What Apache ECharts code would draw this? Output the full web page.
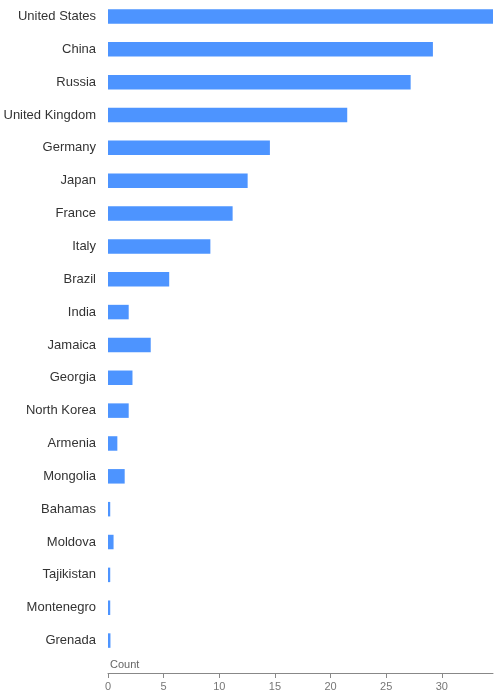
<!DOCTYPE html>
<html>
<head>
<meta charset="utf-8">
<script src="https://cdn.jsdelivr.net/npm/echarts@6/dist/echarts.min.js"></script>
<style>
  html, body { margin: 0; padding: 0; background: #fff; }
  #main { width: 497px; height: 694px; }
</style>
</head>
<body>
<div id="main"></div>
<script>
// countries, top to bottom
var countries = ['United States', 'China', 'Russia', 'United Kingdom', 'Germany', 'Japan',
  'France', 'Italy', 'Brazil', 'India', 'Jamaica', 'Georgia', 'North Korea', 'Armenia',
  'Mongolia', 'Bahamas', 'Moldova', 'Tajikistan', 'Montenegro', 'Grenada'];
var counts = [34.6, 29.2, 27.2, 21.5, 14.55, 12.55, 11.2, 9.2, 5.5, 1.86,
  3.84, 2.2, 1.86, 0.84, 1.5, 0.2, 0.5, 0.2, 0.2, 0.22];
var tickStep = 5;

var myChart = echarts.init(document.getElementById('main'));

var option = {
  animation: false,
  grid: { left: 108, right: 4, top: -3, bottom: 37, containLabel: false },
  xAxis: {
    type: 'value',
    min: 0,
    max: 'dataMax',
    interval: tickStep,
    offset: 16,
    name: 'Count',
    nameLocation: 'start',
    nameGap: -2,
    nameTextStyle: {
      color: '#666', fontSize: 11, fontFamily: 'Liberation Sans',
      align: 'left', verticalAlign: 'bottom', padding: [0, 0, 3, 0]
    },
    splitLine: { show: false },
    axisLine: { show: true, lineStyle: { color: '#888', width: 1 } },
    axisTick: { show: true, length: 5, lineStyle: { color: '#888' } },
    axisLabel: {
      color: '#777', fontSize: 11, fontFamily: 'Liberation Sans',
      margin: 8, showMaxLabel: false
    }
  },
  yAxis: {
    type: 'category',
    inverse: true,
    data: countries,
    axisLine: { show: false },
    axisTick: { show: false },
    axisLabel: { color: '#333', fontSize: 13, fontFamily: 'Liberation Sans', margin: 12 }
  },
  series: [{
    type: 'bar',
    data: counts,
    barWidth: 14.5,
    itemStyle: { color: '#4d94ff' }
  }]
};

myChart.setOption(option);
</script>
</body>
</html>
